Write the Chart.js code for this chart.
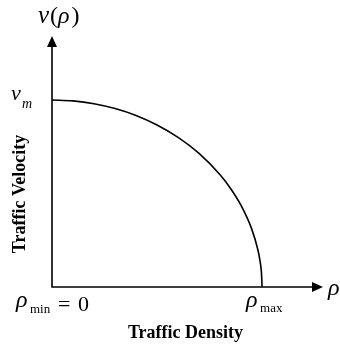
<!DOCTYPE html>
<html>
<head>
<meta charset="utf-8">
<script src="https://cdn.jsdelivr.net/npm/chart.js@4"></script>
<style>
  html, body { margin: 0; padding: 0; background: #fff; }
  #wrap { width: 340px; height: 344px; }
</style>
</head>
<body>
<div id="wrap"><canvas id="c" width="340" height="344"></canvas></div>
<script>
// Normalised density (rho / rho_max) and velocity (v / v_m) along the curve
const density  = [0, 0.1, 0.2, 0.3, 0.4, 0.5, 0.6, 0.7, 0.8, 0.85, 0.9, 0.95, 0.98, 0.99, 0.997, 1.0];
const velocity = [1.0, 0.995, 0.98, 0.954, 0.917, 0.866, 0.8, 0.714, 0.6, 0.527, 0.436, 0.312, 0.199, 0.141, 0.077, 0.0];
const xAxisMax = 1.29;   // axis runs past rho_max to the arrow tip
const yAxisMax = 1.342;  // axis runs past v_m to the arrow tip
const vmValue = 1.0;
const rhoMaxValue = 1.0;

const serif = '"Liberation Serif", "Times New Roman", serif';

// Draws arrowed axes and the mathematical labels
const axesPlugin = {
  id: 'axesPlugin',
  afterDatasetsDraw(chart) {
    const { ctx, chartArea: a, scales: { x, y } } = chart;
    ctx.save();
    ctx.strokeStyle = '#000';
    ctx.fillStyle = '#000';
    ctx.lineWidth = 1.6;
    // axis lines
    ctx.beginPath();
    ctx.moveTo(a.left, a.top + 8);
    ctx.lineTo(a.left, a.bottom);
    ctx.lineTo(a.right - 8, a.bottom);
    ctx.stroke();
    // arrowheads
    ctx.beginPath();
    ctx.moveTo(a.left, a.top);
    ctx.lineTo(a.left - 5, a.top + 11);
    ctx.lineTo(a.left + 5, a.top + 11);
    ctx.closePath();
    ctx.fill();
    ctx.beginPath();
    ctx.moveTo(a.right, a.bottom);
    ctx.lineTo(a.right - 11, a.bottom - 5);
    ctx.lineTo(a.right - 11, a.bottom + 5);
    ctx.closePath();
    ctx.fill();

    ctx.textBaseline = 'alphabetic';
    ctx.textAlign = 'left';

    // v(rho) at the top of the velocity axis
    let cx = 38;
    const parts = [['v', 'italic 25px '], ['(', '24px '], ['\u03C1', 'italic 24px '], [')', '24px ']];
    for (const [t, f] of parts) {
      ctx.font = f + serif;
      ctx.fillText(t, cx, 23);
      cx += ctx.measureText(t).width + (t === 'v' ? 1 : 0) + (t === '\u03C1' ? 2 : 0);
    }

    // v_m at the maximum velocity
    const yVm = y.getPixelForValue(vmValue);
    ctx.font = 'italic 22px ' + serif;
    ctx.fillText('v', 11, yVm);
    ctx.font = 'italic 14px ' + serif;
    ctx.fillText('m', 22, yVm + 8);

    // rho_min = 0 at the origin
    const yb = a.bottom;
    ctx.font = 'italic 24px ' + serif;
    ctx.fillText('\u03C1', 16, yb + 20);
    ctx.font = '13px ' + serif;
    ctx.fillText('min', 30, yb + 26);
    ctx.font = '22px ' + serif;
    ctx.fillText('=', 58, yb + 24);
    ctx.fillText('0', 78, yb + 24);

    // rho_max at the end of the curve
    const xMax = x.getPixelForValue(rhoMaxValue);
    ctx.font = 'italic 24px ' + serif;
    ctx.fillText('\u03C1', xMax - 16, yb + 20);
    ctx.font = '13px ' + serif;
    ctx.fillText('max', xMax - 2, yb + 25);

    // rho at the density axis arrow
    ctx.font = 'italic 24px ' + serif;
    ctx.fillText('\u03C1', a.right + 5, yb + 8);

    // axis titles
    ctx.font = 'bold 18px ' + serif;
    ctx.textAlign = 'center';
    ctx.fillText('Traffic Density', (a.left + a.right) / 2 - 2, 338);
    ctx.save();
    ctx.translate(25, 194);
    ctx.rotate(-Math.PI / 2);
    ctx.fillText('Traffic Velocity', 0, 0);
    ctx.restore();
    ctx.restore();
  }
};

new Chart(document.getElementById('c'), {
  type: 'line',
  data: {
    datasets: [{
      data: density.map((d, i) => ({ x: d, y: velocity[i] })),
      borderColor: '#000',
      borderWidth: 1.6,
      pointRadius: 0,
      cubicInterpolationMode: 'monotone',
      fill: false,
      clip: false
    }]
  },
  options: {
    responsive: false,
    animation: false,
    layout: { padding: { left: 52, top: 36, right: 17, bottom: 57 } },
    plugins: { legend: { display: false }, tooltip: { enabled: false } },
    scales: {
      x: { type: 'linear', min: 0, max: xAxisMax, display: false },
      y: { type: 'linear', min: 0, max: yAxisMax, display: false }
    }
  },
  plugins: [axesPlugin]
});
</script>
</body>
</html>
